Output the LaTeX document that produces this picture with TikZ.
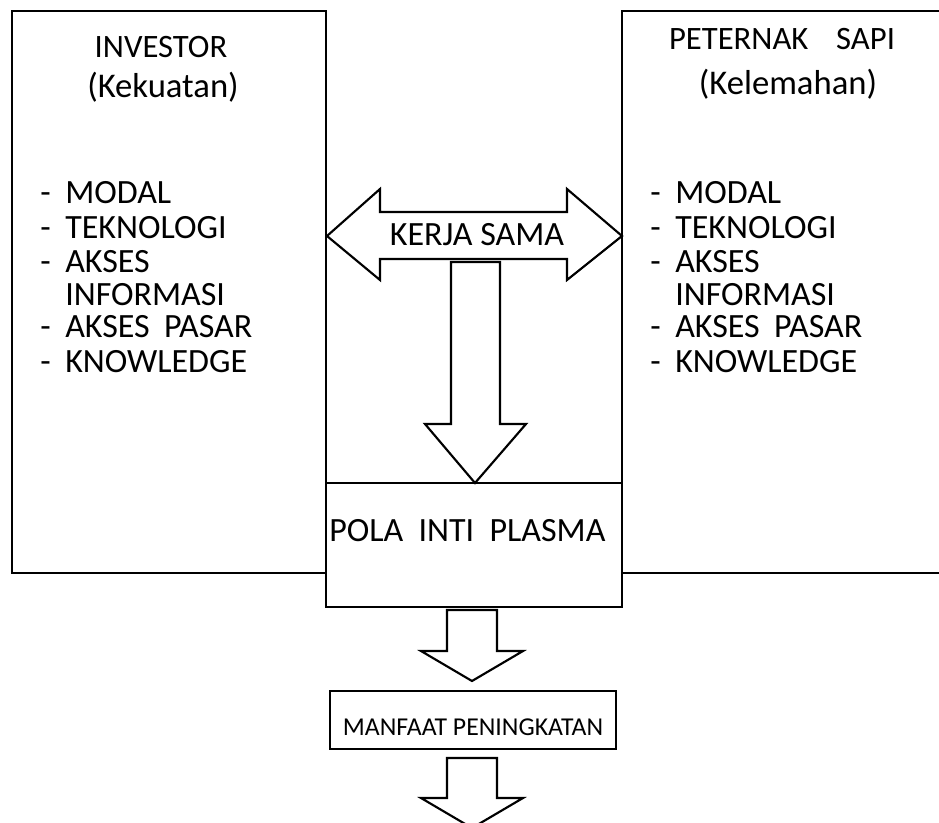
\documentclass[tikz,border=0pt]{standalone}
\usepackage{fontspec}
\setmainfont{Carlito}
\usetikzlibrary{positioning}

\begin{document}
\begin{tikzpicture}[
    x=0.75pt,y=-0.75pt,
    box/.style={draw=black,line width=1.6pt},
    blockarrow/.style={draw=black,fill=white,line width=1.6pt,line join=miter},
    title/.style={inner sep=0pt,anchor=base,font=\fontsize{24.5}{29}\selectfont},
    subtitle/.style={inner sep=0pt,anchor=base,font=\fontsize{26}{31}\selectfont},
    entry/.style={inner sep=0pt,anchor=base west,font=\fontsize{25.5}{30}\selectfont},
    label/.style={inner sep=0pt,anchor=base,font=\fontsize{25.5}{30}\selectfont},
    small/.style={inner sep=0pt,anchor=base,font=\fontsize{19.3}{23}\selectfont},
]
\useasboundingbox (0,0) rectangle (939,822);
\clip (0,0) rectangle (939,822);

    % Kedua pihak
    \draw[box] (12,11) rectangle (326,573);
    \draw[box] (950,11) -- (622,11) -- (622,573) -- (950,573);

    \node[title] (investor) at (161,57) {INVESTOR};
    \node[subtitle] (kekuatan) at (163,97) {(Kekuatan)};
    \node[title] (peternak) at (782,49) {PETERNAK\hspace{0.85em}SAPI};
    \node[subtitle] (kelemahan) at (788,94) {(Kelemahan)};

    % Daftar faktor
    \foreach \bx/\side in {40/inv,650/pet} {
        \foreach \yy/\txt [count=\i] in {203/MODAL,238/TEKNOLOGI,272/AKSES,305/INFORMASI,337/{AKSES\hspace{0.42em}PASAR},372/KNOWLEDGE} {
            \node[entry] (\side-item-\i) at (\bx+25,\yy) {\txt};
        }
        \foreach \yy [count=\i] in {203,238,272,337,372} {
            \node[entry] (\side-dash-\i) at (\bx,\yy) {-};
        }
    }

    % Pola inti plasma
    \draw[box] (326,483) rectangle (622,607);
    \node[entry] (pola) at (329,541) {POLA\hspace{0.45em}INTI\hspace{0.45em}PLASMA};

    % Kerja sama
    \draw[blockarrow] (327,236) -- (380,189) -- (380,212) -- (567,212) -- (567,189)
        -- (622,236) -- (567,280) -- (567,259) -- (380,259) -- (380,280) -- cycle;
    \node[label] (kerja) at (477,245) {KERJA SAMA};
    \draw[blockarrow] (451,262) -- (451,424) -- (425,424) -- (475,483) -- (526,424)
        -- (500,424) -- (500,262) -- cycle;

    % Manfaat
    \draw[blockarrow] (447,610) -- (497,610) -- (497,651) -- (523,651) -- (472,681)
        -- (421,651) -- (447,651) -- cycle;
    \draw[box] (330,691) rectangle (616,749);
    \node[small] (manfaat) at (473,735) {MANFAAT PENINGKATAN};
    \draw[blockarrow] (447,758) -- (497,758) -- (497,798) -- (523,798) -- (472,828)
        -- (421,798) -- (447,798) -- cycle;

\end{tikzpicture}
\end{document}
